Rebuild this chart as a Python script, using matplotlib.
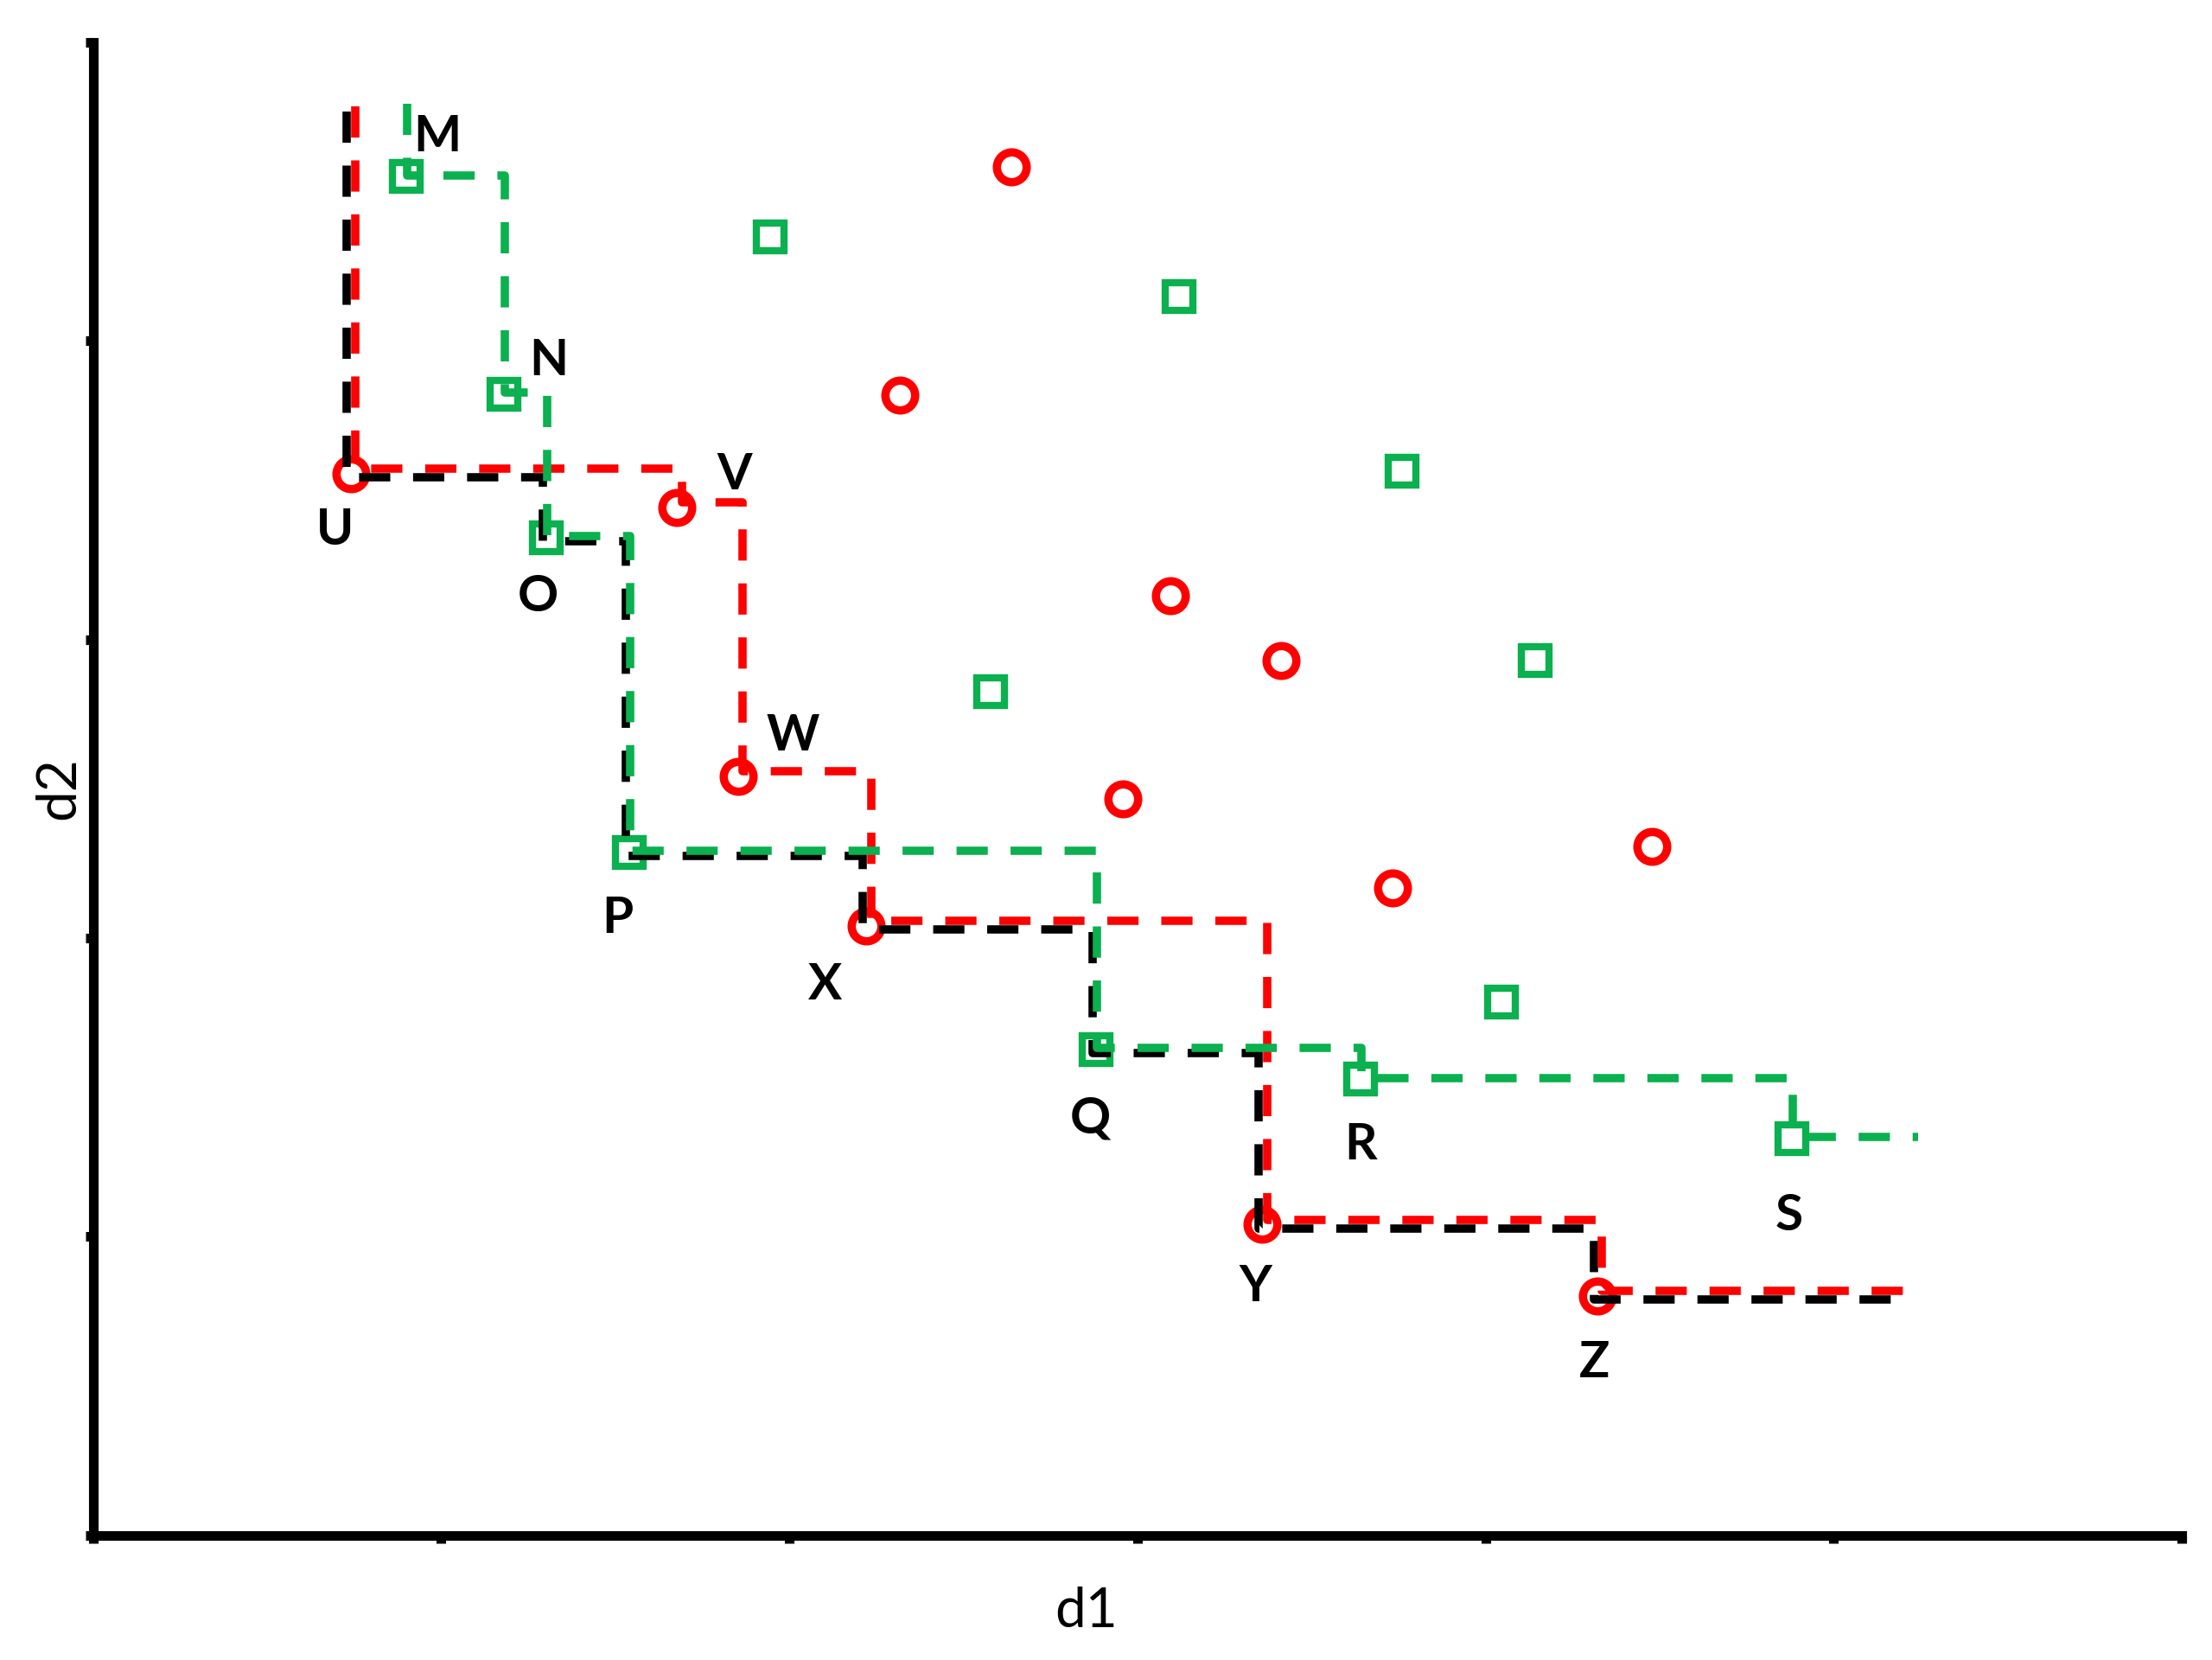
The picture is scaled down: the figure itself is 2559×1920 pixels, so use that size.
import matplotlib
matplotlib.use("Agg")
import matplotlib.pyplot as plt
from matplotlib.transforms import offset_copy

# green set (squares)
green_front_x = [0.900, 1.181, 1.303, 1.540, 2.882, 3.641, 4.879]
green_front_y = [4.550, 3.821, 3.342, 2.287, 1.626, 1.527, 1.328]
green_front_labels = ["M", "N", "O", "P", "Q", "R", "S"]
green_other_x = [1.946, 3.121, 3.761, 4.142, 2.578, 4.045]
green_other_y = [4.348, 4.149, 3.563, 2.930, 2.826, 1.785]

# red set (circles)
red_front_x = [0.740, 1.678, 1.853, 2.221, 3.358, 4.321]
red_front_y = [3.556, 3.442, 2.542, 2.041, 1.040, 0.802]
red_front_labels = ["U", "V", "W", "X", "Y", "Z"]
red_other_x = [2.639, 2.318, 3.096, 3.413, 2.959, 4.478, 3.733]
red_other_y = [4.584, 3.818, 3.147, 2.930, 2.467, 2.306, 2.169]

# where the step lines start (top) and stop (right)
green_top, green_end = 4.79, 5.24
red_top, red_end = 4.77, 5.22
black_top, black_end = 4.78, 5.22

GREEN = "#0bb04f"
RED = "#ff0000"


def pareto(xs, ys):
    pts = sorted(zip(xs, ys))
    fx, fy = [], []
    best = float("inf")
    for x, y in pts:
        if y < best:
            fx.append(x)
            fy.append(y)
            best = y
    return fx, fy


def step_path(px, py, y_top, x_end):
    sx, sy = [px[0]], [y_top]
    for i in range(len(px)):
        sx.append(px[i])
        sy.append(py[i])
        nx = px[i + 1] if i + 1 < len(px) else x_end
        sx.append(nx)
        sy.append(py[i])
    return sx, sy


fig = plt.figure(figsize=(12.795, 9.6), dpi=200)
ax = fig.add_axes([0.04201, 0.07526, 0.94432, 0.89922])
ax.set_xlim(0, 6)
ax.set_ylim(0, 5)

# markers
ms_kw = dict(linestyle="none", mfc="none", zorder=2)
ax.plot(green_front_x + green_other_x, green_front_y + green_other_y, marker="s",
        ms=11.8, mew=3.0, mec=GREEN, **ms_kw)
ax.plot(red_front_x + red_other_x, red_front_y + red_other_y, marker="o",
        ms=12.4, mew=3.45, mec=RED, **ms_kw)

# step lines (slightly shifted so they don't sit on top of each other)
dash = (0, (3.77, 2.75))
line_kw = dict(lw=3.45, linestyle=dash, solid_capstyle="butt", dash_capstyle="butt", zorder=3)

bx, by = pareto(green_front_x + red_front_x, green_front_y + red_front_y)
sx, sy = step_path(bx, by, black_top, black_end)
ax.plot(sx, sy, color="black", transform=offset_copy(ax.transData, fig, x=-1.5, y=-1.6, units="points"), **line_kw)

sx, sy = step_path(red_front_x, red_front_y, red_top, red_end)
ax.plot(sx, sy, color=RED, transform=offset_copy(ax.transData, fig, x=2.0, y=2.0, units="points"), **line_kw)

sx, sy = step_path(green_front_x, green_front_y, green_top, green_end)
ax.plot(sx, sy, color=GREEN, transform=offset_copy(ax.transData, fig, x=0.4, y=0.6, units="points"), **line_kw)

# point labels
label_offsets = {
    "M": (13, 16.5), "N": (18.5, 14), "O": (-3.5, -25), "P": (-4.7, -27.6),
    "Q": (-2.4, -28.8), "R": (0, -27.6), "S": (-1.2, -32.3),
    "U": (-6.5, -23.8), "V": (24, 13.5), "W": (22.9, 16.5), "X": (-17, -24.7),
    "Y": (-2.9, -25.9), "Z": (-1.2, -28.2),
}
for xs, ys, labs in [(green_front_x, green_front_y, green_front_labels),
                     (red_front_x, red_front_y, red_front_labels)]:
    for x, y, lab in zip(xs, ys, labs):
        ax.annotate(lab, (x, y), xytext=label_offsets[lab], textcoords="offset points",
                    ha="center", va="center", fontsize=21, fontweight="bold",
                    family=["Lato", "DejaVu Sans"], zorder=4)

# axes styling
for side in ["top", "right"]:
    ax.spines[side].set_visible(False)
for side in ["left", "bottom"]:
    ax.spines[side].set_linewidth(4)
ax.set_xticks(range(0, 7))
ax.set_yticks(range(0, 6))
ax.tick_params(direction="out", length=3.3, width=4, labelbottom=False, labelleft=False)

ax.set_xlabel("d1", fontsize=23, family=["Lato", "DejaVu Sans"])
ax.set_ylabel("d2", fontsize=23, family=["Lato", "DejaVu Sans"])
ax.xaxis.set_label_coords(0.4757, -0.0345)
ax.yaxis.set_label_coords(-0.0043, 0.5003)

fig.savefig("out.png", dpi=200)
